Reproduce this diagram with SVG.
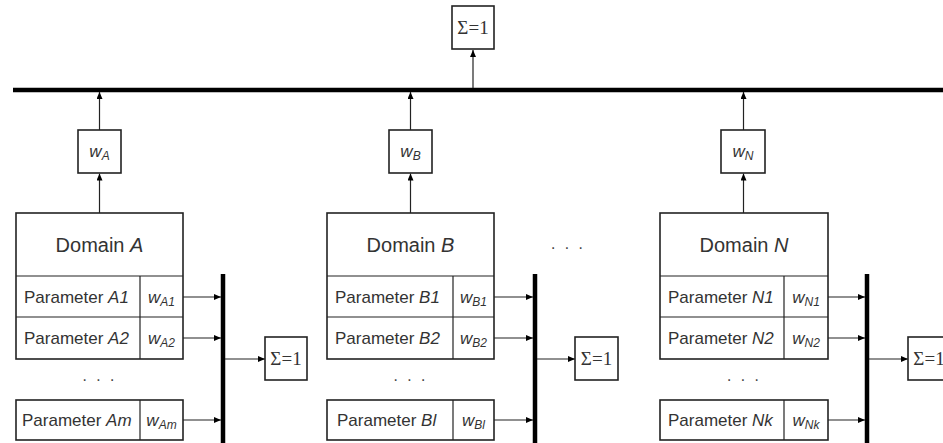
<svg xmlns="http://www.w3.org/2000/svg" width="943" height="443" viewBox="0 0 943 443">
<defs>
<marker id="ah" markerUnits="userSpaceOnUse" markerWidth="7" markerHeight="6" refX="7" refY="3" orient="auto">
<path d="M0,0 L7,3 L0,6 Z" fill="#000"/>
</marker>
<style>
.box{fill:#fff;stroke:#222;stroke-width:1.6}
.ln{stroke:#222;stroke-width:1.2;fill:none}
.conn{stroke:#222;stroke-width:1.2;fill:none;marker-end:url(#ah)}
.bar{stroke:#000;stroke-width:4.5;fill:none}
.dom{font-family:"Liberation Sans",Arial,sans-serif;font-size:20px;fill:#333;text-anchor:middle}
.par{font-family:"Liberation Sans",Arial,sans-serif;font-size:17px;fill:#333}
.w{font-family:"Liberation Sans",Arial,sans-serif;font-size:17px;fill:#333;font-style:italic;text-anchor:middle}
.sub{font-size:12px}
.sum{font-family:"Liberation Serif","Times New Roman",serif;font-size:19px;fill:#333;text-anchor:middle}
.dots{font-family:"Liberation Sans",Arial,sans-serif;font-size:16px;fill:#444;text-anchor:middle;letter-spacing:2px}
.it{font-style:italic}
</style>
</defs>
<rect width="943" height="443" fill="#fff"/>

<g id="connectors">
<line class="bar" x1="13" y1="90" x2="943" y2="90"/>
<line class="conn" x1="473" y1="88" x2="473" y2="50"/>
<!-- A -->
<line class="conn" x1="99.5" y1="213" x2="99.5" y2="173.5"/>
<line class="conn" x1="99.5" y1="130" x2="99.5" y2="92"/>
<line class="bar" x1="223" y1="274" x2="223" y2="443"/>
<line class="conn" x1="183" y1="297" x2="221" y2="297"/>
<line class="conn" x1="183" y1="338" x2="221" y2="338"/>
<line class="conn" x1="183" y1="420" x2="221" y2="420"/>
<line class="conn" x1="225" y1="359" x2="265" y2="359"/>
<!-- B -->
<line class="conn" x1="410.5" y1="213" x2="410.5" y2="173.5"/>
<line class="conn" x1="410.5" y1="130" x2="410.5" y2="92"/>
<line class="bar" x1="535" y1="274" x2="535" y2="443"/>
<line class="conn" x1="494" y1="297" x2="533" y2="297"/>
<line class="conn" x1="494" y1="338" x2="533" y2="338"/>
<line class="conn" x1="494" y1="420" x2="533" y2="420"/>
<line class="conn" x1="537" y1="359" x2="575" y2="359"/>
<!-- N -->
<line class="conn" x1="743.5" y1="213" x2="743.5" y2="173.5"/>
<line class="conn" x1="743.5" y1="130" x2="743.5" y2="92"/>
<line class="bar" x1="867" y1="274" x2="867" y2="443"/>
<line class="conn" x1="828" y1="297" x2="865" y2="297"/>
<line class="conn" x1="828" y1="338" x2="865" y2="338"/>
<line class="conn" x1="828" y1="420" x2="865" y2="420"/>
<line class="conn" x1="869" y1="359" x2="908" y2="359"/>
</g>

<g id="sum-top">
<rect class="box" x="452" y="6" width="42" height="43"/>
<text class="sum" x="473" y="34">Σ=1</text>
</g>

<!-- Domain A -->
<g id="wA">
<rect class="box" x="78" y="130" width="43" height="43"/>
<text class="w" x="99.5" y="157">w<tspan class="sub" dy="3">A</tspan></text>
</g>
<g id="domainA">
<rect class="box" x="16" y="213" width="167" height="146"/>
<line class="ln" x1="16" y1="276" x2="183" y2="276"/>
<line class="ln" x1="16" y1="317" x2="183" y2="317"/>
<line class="ln" x1="140" y1="276" x2="140" y2="359"/>
<text class="dom" x="99.5" y="252">Domain <tspan class="it">A</tspan></text>
<text class="par" x="24" y="303">Parameter <tspan class="it">A1</tspan></text>
<text class="w" x="161.5" y="303">w<tspan class="sub" dy="3">A1</tspan></text>
<text class="par" x="24" y="344">Parameter <tspan class="it">A2</tspan></text>
<text class="w" x="161.5" y="344">w<tspan class="sub" dy="3">A2</tspan></text>
</g>
<g id="dotsA"><text class="dots" x="99.5" y="385">· · ·</text></g>
<g id="paramAm">
<rect class="box" x="16" y="400" width="167" height="40"/>
<line class="ln" x1="140" y1="400" x2="140" y2="440"/>
<text class="par" x="22" y="426">Parameter <tspan class="it">Am</tspan></text>
<text class="w" x="161.5" y="426">w<tspan class="sub" dy="3">Am</tspan></text>
</g>
<g id="sumA">
<rect class="box" x="265" y="337" width="42" height="43"/>
<text class="sum" x="286" y="365">Σ=1</text>
</g>

<!-- Domain B -->
<g id="wB">
<rect class="box" x="389" y="130" width="43" height="43"/>
<text class="w" x="410.5" y="157">w<tspan class="sub" dy="3">B</tspan></text>
</g>
<g id="domainB">
<rect class="box" x="327" y="213" width="167" height="146"/>
<line class="ln" x1="327" y1="276" x2="494" y2="276"/>
<line class="ln" x1="327" y1="317" x2="494" y2="317"/>
<line class="ln" x1="453" y1="276" x2="453" y2="359"/>
<text class="dom" x="410.5" y="252">Domain <tspan class="it">B</tspan></text>
<text class="par" x="335" y="303">Parameter <tspan class="it">B1</tspan></text>
<text class="w" x="473.5" y="303">w<tspan class="sub" dy="3">B1</tspan></text>
<text class="par" x="335" y="344">Parameter <tspan class="it">B2</tspan></text>
<text class="w" x="473.5" y="344">w<tspan class="sub" dy="3">B2</tspan></text>
</g>
<g id="dotsB"><text class="dots" x="410.5" y="385">· · ·</text></g>
<g id="paramBl">
<rect class="box" x="327" y="400" width="167" height="40"/>
<line class="ln" x1="453" y1="400" x2="453" y2="440"/>
<text class="par" x="337" y="426">Parameter <tspan class="it">Bl</tspan></text>
<text class="w" x="473.5" y="426">w<tspan class="sub" dy="3">Bl</tspan></text>
</g>
<g id="sumB">
<rect class="box" x="575" y="337" width="43" height="43"/>
<text class="sum" x="596.5" y="365">Σ=1</text>
</g>
<g id="dotsMid"><text class="dots" x="568" y="253">· · ·</text></g>

<!-- Domain N -->
<g id="wN">
<rect class="box" x="721" y="130" width="44" height="43"/>
<text class="w" x="743" y="157">w<tspan class="sub" dy="3">N</tspan></text>
</g>
<g id="domainN">
<rect class="box" x="660" y="213" width="168" height="146"/>
<line class="ln" x1="660" y1="276" x2="828" y2="276"/>
<line class="ln" x1="660" y1="317" x2="828" y2="317"/>
<line class="ln" x1="784" y1="276" x2="784" y2="359"/>
<text class="dom" x="744" y="252">Domain <tspan class="it">N</tspan></text>
<text class="par" x="668" y="303">Parameter <tspan class="it">N1</tspan></text>
<text class="w" x="806" y="303">w<tspan class="sub" dy="3">N1</tspan></text>
<text class="par" x="668" y="344">Parameter <tspan class="it">N2</tspan></text>
<text class="w" x="806" y="344">w<tspan class="sub" dy="3">N2</tspan></text>
</g>
<g id="dotsN"><text class="dots" x="744" y="385">· · ·</text></g>
<g id="paramNk">
<rect class="box" x="660" y="400" width="168" height="40"/>
<line class="ln" x1="784" y1="400" x2="784" y2="440"/>
<text class="par" x="668" y="426">Parameter <tspan class="it">Nk</tspan></text>
<text class="w" x="806" y="426">w<tspan class="sub" dy="3">Nk</tspan></text>
</g>
<g id="sumN">
<rect class="box" x="908" y="337" width="42" height="43"/>
<text class="sum" x="929" y="365">Σ=1</text>
</g>
</svg>
